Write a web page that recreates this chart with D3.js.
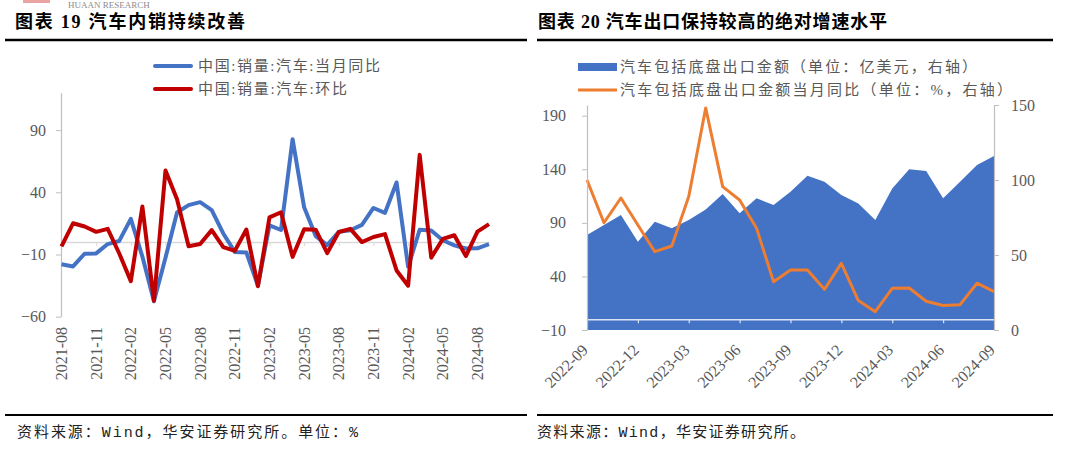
<!DOCTYPE html>
<html><head><meta charset="utf-8">
<script src="https://cdn.jsdelivr.net/npm/d3@7"></script>
<style>
html,body{margin:0;padding:0;background:#fff;}
svg{display:block;}
</style></head>
<body>
<svg id="chart" width="1080" height="450"></svg>
<script>
// ---------- Left chart data (汽车内销) ----------
const salesMonths = ["2021-08","2021-09","2021-10","2021-11","2021-12",
  "2022-01","2022-02","2022-03","2022-04","2022-05","2022-06","2022-07","2022-08","2022-09","2022-10","2022-11","2022-12",
  "2023-01","2023-02","2023-03","2023-04","2023-05","2023-06","2023-07","2023-08","2023-09","2023-10","2023-11","2023-12",
  "2024-01","2024-02","2024-03","2024-04","2024-05","2024-06","2024-07","2024-08","2024-09"];
const salesYoY = [-17.8,-19.6,-9.4,-9.1,-1.6,
  0.9,18.7,-11.7,-47.6,-12.6,23.8,29.7,32.1,25.7,6.9,-7.9,-8.4,
  -35.0,13.5,9.7,82.7,27.9,4.8,-2.4,8.2,9.5,13.8,27.4,23.5,
  47.9,-19.9,9.9,9.3,1.5,-2.7,-5.2,-5.0,-1.7];
const salesMoM = [-3.5,15.1,12.5,8.2,10.6,
  -9.2,-31.4,28.6,-47.1,57.6,34.4,-3.3,-1.5,9.6,-4.1,-7.1,10.1,
  -35.5,19.8,24.0,-11.9,10.3,10.0,-8.9,8.1,10.6,0.0,4.1,6.4,
  -22.8,-35.1,70.1,-12.5,2.5,5.5,-11.3,8.4,14.4];
const salesYTicks = [-60,-10,40,90];
const salesXTickLabels = ["2021-08","2021-11","2022-02","2022-05","2022-08","2022-11","2023-02","2023-05","2023-08","2023-11","2024-02","2024-05","2024-08"];
const salesLegend = ["中国:销量:汽车:当月同比","中国:销量:汽车:环比"];

// ---------- Right chart data (汽车出口) ----------
const exportMonths = ["2022-09","2022-10","2022-11","2022-12",
  "2023-01","2023-02","2023-03","2023-04","2023-05","2023-06","2023-07","2023-08","2023-09","2023-10","2023-11","2023-12",
  "2024-01","2024-02","2024-03","2024-04","2024-05","2024-06","2024-07","2024-08","2024-09"];
const exportValue = [63.3,70.0,76.7,58.9,
  72.2,67.8,73.3,80.4,90.7,77.8,87.8,83.3,92.2,102.9,98.9,90.0,
  84.4,73.3,94.4,107.1,106.0,87.8,98.9,110.0,116.0];
const exportYoY = [100.0,71.5,88.0,70.0,
  52.2,56.0,89.0,148.0,95.6,86.7,67.8,32.2,40.0,40.0,27.1,44.4,
  19.6,12.2,27.8,28.0,19.2,16.3,16.9,31.2,25.6];
const exportLeftTicks = [-10,40,90,140,190];
const exportRightTicks = [0,50,100,150];
const exportXTickLabels = ["2022-09","2022-12","2023-03","2023-06","2023-09","2023-12","2024-03","2024-06","2024-09"];
const exportLegend = ["汽车包括底盘出口金额（单位：亿美元，右轴）","汽车包括底盘出口金额当月同比（单位：%，右轴）"];

const titles = ["图表 19 汽车内销持续改善","图表 20 汽车出口保持较高的绝对增速水平"];
const sources = ["资料来源：Wind，华安证券研究所。单位：%","资料来源：Wind，华安证券研究所。"];

const svg = d3.select("#chart");
const SERIF = "'Liberation Serif','Noto Sans CJK SC',serif";
const CJK = "'Liberation Serif','Noto Sans CJK SC',sans-serif";
const MONO = "'Liberation Mono','Noto Sans CJK SC',monospace";
const AXIS_GRAY = "#bfbfbf";
const TXT = "#595959";

// ---------- header ----------
svg.append("rect").attr("x",23).attr("y",0).attr("width",27).attr("height",3).attr("fill","#e9a3a3");
svg.append("text").attr("x",68).attr("y",8).attr("font-family",SERIF).attr("font-size",9)
  .attr("fill","#8c8c8c").text("HUAAN RESEARCH");

// titles
svg.append("text").attr("x",15).attr("y",28).attr("font-family",CJK).attr("font-weight","bold")
  .attr("font-size",18).attr("fill","#000").attr("textLength",230).attr("lengthAdjust","spacing").text(titles[0]);
svg.append("text").attr("x",538).attr("y",28).attr("font-family",CJK).attr("font-weight","bold")
  .attr("font-size",18).attr("fill","#000").attr("textLength",349).attr("lengthAdjust","spacing").text(titles[1]);
svg.append("line").attr("x1",5).attr("x2",527).attr("y1",40).attr("y2",40).attr("stroke","#000").attr("stroke-width",2.5);
svg.append("line").attr("x1",537).attr("x2",1053).attr("y1",40).attr("y2",40).attr("stroke","#000").attr("stroke-width",2.5);

// sources
svg.append("line").attr("x1",5).attr("x2",527).attr("y1",415).attr("y2",415).attr("stroke","#000").attr("stroke-width",1.8);
svg.append("line").attr("x1",537).attr("x2",1053).attr("y1",415).attr("y2",415).attr("stroke","#000").attr("stroke-width",1.8);
svg.append("text").attr("x",17).attr("y",437).attr("font-family",MONO).attr("font-size",15)
  .attr("fill","#222").attr("textLength",341).attr("lengthAdjust","spacing").text(sources[0]);
svg.append("text").attr("x",537).attr("y",437).attr("font-family",MONO).attr("font-size",15)
  .attr("fill","#222").attr("textLength",268).attr("lengthAdjust","spacing").text(sources[1]);

// ---------- Left chart ----------
{
  const g = svg.append("g");
  const x = d3.scalePoint().domain(salesMonths).range([61.5, 489]);
  const y = d3.scaleLinear().domain([-60,120]).range([316.7, 92.8]);

  const ya = g.append("g").attr("transform","translate(61,0)")
    .call(d3.axisLeft(y).tickValues(salesYTicks).tickSize(5).tickSizeOuter(0).tickPadding(10));
  ya.select(".domain").attr("stroke",AXIS_GRAY).attr("stroke-width",1.2);
  ya.selectAll(".tick line").attr("stroke",AXIS_GRAY);
  ya.selectAll(".tick text").attr("font-family",SERIF).attr("font-size",16).attr("fill",TXT);

  const xa = g.append("g").attr("transform",`translate(0,${y(0)})`)
    .call(d3.axisBottom(x).tickValues(salesXTickLabels).tickSize(4).tickSizeOuter(0).tickFormat(""));
  xa.select(".domain").attr("stroke","#d9d9d9").attr("stroke-width",1.5);
  xa.selectAll(".tick line").attr("stroke","#d9d9d9");

  g.selectAll("text.xl").data(salesXTickLabels).join("text").attr("class","xl")
    .attr("transform",d=>`translate(${x(d)},327) rotate(-90)`)
    .attr("text-anchor","end").attr("dy","0.35em")
    .attr("font-family",SERIF).attr("font-size",16).attr("fill",TXT).text(d=>d);

  const line = (arr)=>d3.line().x((d,i)=>x(salesMonths[i])).y(d=>y(d))(arr);
  g.append("path").attr("d",line(salesYoY)).attr("fill","none").attr("stroke","#4472C4")
    .attr("stroke-width",4).attr("stroke-linejoin","round");
  g.append("path").attr("d",line(salesMoM)).attr("fill","none").attr("stroke","#C00000")
    .attr("stroke-width",4).attr("stroke-linejoin","round");

  const cols = ["#4472C4","#C00000"];
  salesLegend.forEach((t,i)=>{
    const ly = 66 + i*23;
    g.append("line").attr("x1",155).attr("x2",191).attr("y1",ly).attr("y2",ly)
      .attr("stroke",cols[i]).attr("stroke-width",4).attr("stroke-linecap","round");
    g.append("text").attr("x",198).attr("y",ly+5).attr("font-family",CJK).attr("font-size",15)
      .attr("fill",TXT).attr("textLength",i===0?182:149).attr("lengthAdjust","spacing").text(t);
  });
}

// ---------- Right chart ----------
{
  const g = svg.append("g");
  const x = d3.scalePoint().domain(exportMonths).range([587, 994]);
  const yL = d3.scaleLinear().domain([-10,200]).range([330,105]);
  const yR = d3.scaleLinear().domain([0,150]).range([330,105]);

  const area = d3.area().x((d,i)=>x(exportMonths[i])).y0(yR(0)).y1(d=>yR(d));
  g.append("path").attr("d",area(exportValue)).attr("fill","#4472C4");

  const xa = g.append("g").attr("transform",`translate(0,${yL(0)})`)
    .call(d3.axisBottom(x).tickValues(exportXTickLabels).tickSize(4).tickSizeOuter(0).tickFormat(""));
  xa.select(".domain").attr("stroke","#dbe3f3").attr("stroke-width",1.5);
  xa.selectAll(".tick line").attr("stroke","#dbe3f3").attr("stroke-width",1.2);

  const line = d3.line().x((d,i)=>x(exportMonths[i])).y(d=>yR(d));
  g.append("path").attr("d",line(exportYoY)).attr("fill","none").attr("stroke","#ED7D31")
    .attr("stroke-width",3).attr("stroke-linejoin","round");

  const la = g.append("g").attr("transform","translate(587,0)")
    .call(d3.axisLeft(yL).tickValues(exportLeftTicks).tickSize(5).tickSizeOuter(0).tickPadding(16));
  la.select(".domain").attr("stroke",AXIS_GRAY).attr("stroke-width",1.2);
  la.selectAll(".tick line").attr("stroke",AXIS_GRAY);
  la.selectAll(".tick text").attr("font-family",SERIF).attr("font-size",16).attr("fill",TXT);

  const ra = g.append("g").attr("transform","translate(994,0)")
    .call(d3.axisRight(yR).tickValues(exportRightTicks).tickSize(5).tickSizeOuter(0).tickPadding(12));
  ra.select(".domain").attr("stroke",AXIS_GRAY).attr("stroke-width",1.2);
  ra.selectAll(".tick line").attr("stroke",AXIS_GRAY);
  ra.selectAll(".tick text").attr("font-family",SERIF).attr("font-size",16).attr("fill",TXT);

  g.selectAll("text.xl").data(exportXTickLabels).join("text").attr("class","xl")
    .attr("transform",d=>`translate(${x(d)+2},351) rotate(-45)`)
    .attr("text-anchor","end")
    .attr("font-family",SERIF).attr("font-size",16).attr("fill",TXT).text(d=>d);

  g.append("rect").attr("x",578).attr("y",63).attr("width",39).attr("height",8).attr("fill","#4472C4");
  g.append("text").attr("x",620).attr("y",72).attr("font-family",CJK).attr("font-size",15)
    .attr("fill",TXT).attr("textLength",357).attr("lengthAdjust","spacing").text(exportLegend[0]);
  g.append("line").attr("x1",578).attr("x2",617).attr("y1",90).attr("y2",90)
    .attr("stroke","#ED7D31").attr("stroke-width",3);
  g.append("text").attr("x",620).attr("y",95).attr("font-family",CJK).attr("font-size",15)
    .attr("fill",TXT).attr("textLength",392).attr("lengthAdjust","spacing").text(exportLegend[1]);
}
</script>
</body></html>
